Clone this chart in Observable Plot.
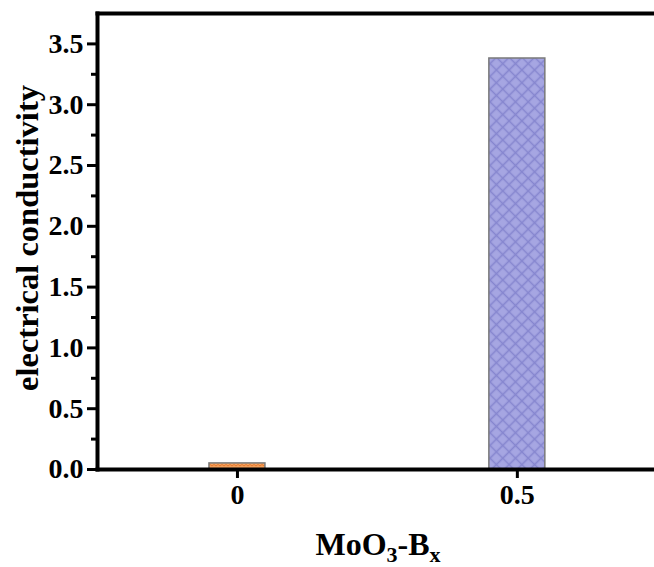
<!DOCTYPE html>
<html>
<head>
<meta charset="utf-8">
<script src="https://cdn.jsdelivr.net/npm/d3@7"></script>
<script src="https://cdn.jsdelivr.net/npm/@observablehq/plot@0.6"></script>
<style>
  html, body { margin: 0; padding: 0; background: #fff; overflow: hidden; }
  svg { display: block; }
</style>
</head>
<body>
<div id="chart"></div>
<script>
// Boron content (x) and measured electrical conductivity
const categories = [0, 0.5];
const conductivity = [0.05, 3.38];
const tickLabels = ["0", "0.5"];

// y-axis tick positions
const yMajor = [0, 0.5, 1.0, 1.5, 2.0, 2.5, 3.0, 3.5];
const yMinor = [0.25, 0.75, 1.25, 1.75, 2.25, 2.75, 3.25];

const bars = categories.map((c, i) => ({x: c, value: conductivity[i]}));
const halfWidth = 0.05;
const font = "'Liberation Serif', 'Times New Roman', serif";

const barStyle = (fill) => ({
  x1: d => d.x - halfWidth,
  x2: d => d.x + halfWidth,
  y: "value",
  fill,
  stroke: "#7a7a7a",
  strokeWidth: 1.5
});

const chart = Plot.plot({
  width: 654,
  height: 567,
  marginLeft: 97,
  marginRight: 0,
  marginTop: 13,
  marginBottom: 98,
  style: {fontFamily: font, background: "#fff", color: "#000", overflow: "visible"},
  x: {domain: [-0.25, 0.745]},
  y: {domain: [0, 3.75]},
  marks: [
    Plot.rectY(bars.slice(0, 1), barStyle("url(#hatch-orange)")),
    Plot.rectY(bars.slice(1, 2), barStyle("url(#hatch-purple)")),
    Plot.axisY({ticks: yMinor, tickSize: 6, strokeWidth: 3, text: null, label: null}),
    Plot.axisY({
      ticks: yMajor, tickSize: 10, tickPadding: 4, strokeWidth: 3,
      tickFormat: d3.format(".1f"), fontSize: 28, fontWeight: "bold", label: null
    }),
    Plot.axisX({
      ticks: categories, tickSize: 9, tickPadding: 6, strokeWidth: 3,
      tickFormat: (d) => tickLabels[categories.indexOf(d)],
      fontSize: 28, fontWeight: "bold", label: null
    }),
    Plot.frame({anchor: "left", strokeWidth: 4}),
    Plot.frame({anchor: "bottom", strokeWidth: 4}),
    Plot.frame({anchor: "top", strokeWidth: 4})
  ]
});

const svg = d3.select(chart);
const defs = svg.insert("defs", ":first-child");

// wavy hatch for the x = 0 bar
const po = defs.append("pattern")
  .attr("id", "hatch-orange").attr("patternUnits", "userSpaceOnUse")
  .attr("width", 8).attr("height", 6);
po.append("rect").attr("width", 8).attr("height", 6).attr("fill", "#f5a35e");
po.append("path").attr("d", "M0,4 L2,2.5 L4,4 L6,2.5 L8,4")
  .attr("fill", "none").attr("stroke", "#e5782e").attr("stroke-width", 1);

// cross hatch for the x = 0.5 bar
const pp = defs.append("pattern")
  .attr("id", "hatch-purple").attr("patternUnits", "userSpaceOnUse")
  .attr("width", 9).attr("height", 9)
  .attr("patternTransform", "rotate(45)");
pp.append("rect").attr("width", 9).attr("height", 9).attr("fill", "#a6a6e2");
pp.append("path").attr("d", "M0,4.5 H9 M4.5,0 V9")
  .attr("stroke", "#8686cf").attr("stroke-width", 1.6);

// axis titles
svg.append("text")
  .attr("transform", "translate(38,238) rotate(-90)")
  .attr("text-anchor", "middle")
  .attr("font-family", font).attr("font-weight", "bold").attr("font-size", 32.5)
  .attr("fill", "#000")
  .text("electrical conductivity");

const xt = svg.append("text")
  .attr("x", 378).attr("y", 555)
  .attr("text-anchor", "middle")
  .attr("font-family", font).attr("font-weight", "bold").attr("font-size", 32)
  .attr("fill", "#000");
xt.append("tspan").text("MoO");
xt.append("tspan").attr("font-size", 22).attr("dy", 7).text("3");
xt.append("tspan").attr("dy", -7).text("-B");
xt.append("tspan").attr("font-size", 22).attr("dy", 7).text("x");

document.getElementById("chart").appendChild(chart);
</script>
</body>
</html>
